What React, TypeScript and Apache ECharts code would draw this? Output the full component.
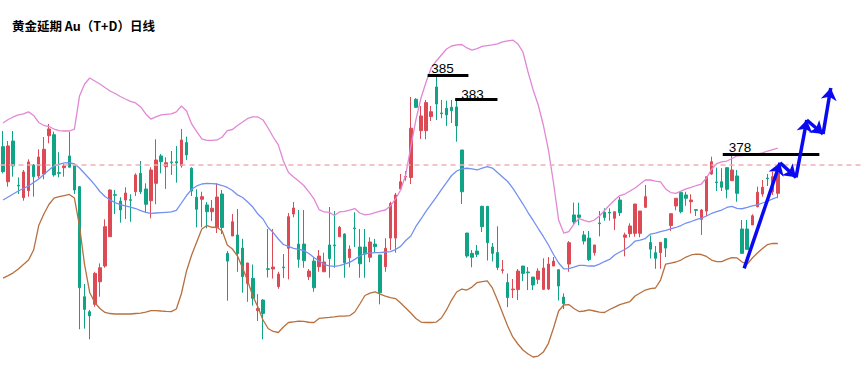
import React, { useEffect, useRef } from 'react';
import * as echarts from 'echarts';

const chartTitle = '黄金延期 Au（T+D）日线';

// [open, close, low, high]
const candles: number[][] = [
  [378.77, 376.59, 376.45, 380.13], [375.72, 378.83, 375.29, 379.26], [379.26, 377.09, 376.16, 380.13],
  [375.41, 375.35, 374.65, 376.10], [374.33, 376.57, 374.07, 376.74], [374.94, 377.44, 374.42, 377.67],
  [377.18, 376.16, 374.42, 377.26], [376.22, 377.87, 376.02, 378.54], [376.39, 378.54, 375.93, 379.61],
  [379.72, 380.31, 379.06, 380.74], [379.81, 376.31, 376.16, 380.07], [376.51, 376.45, 376.10, 378.28],
  [376.94, 377.09, 376.16, 377.26], [377.96, 376.98, 376.98, 380.07], [377.15, 375.00, 374.65, 377.18],
  [375.29, 366.50, 362.89, 375.35], [365.72, 364.62, 362.94, 366.82], [364.42, 364.05, 362.02, 364.57],
  [365.06, 367.75, 364.85, 367.89], [367.02, 368.24, 365.72, 368.62], [368.39, 371.81, 368.24, 372.45],
  [370.94, 375.00, 370.94, 375.06], [374.59, 374.54, 372.91, 375.00], [374.04, 373.26, 372.16, 374.37],
  [374.13, 374.74, 372.48, 375.24], [374.16, 374.10, 372.24, 374.63], [374.85, 376.31, 374.48, 376.45],
  [376.45, 374.85, 374.65, 377.52], [375.09, 373.76, 373.06, 375.58], [374.07, 376.74, 372.54, 376.98],
  [375.58, 377.61, 373.76, 379.41], [377.96, 377.46, 376.45, 378.13], [377.03, 377.37, 375.09, 377.84],
  [377.44, 377.37, 376.31, 378.39], [377.46, 377.35, 375.64, 378.83], [377.11, 379.35, 376.94, 380.31],
  [379.12, 378.05, 377.61, 379.64], [376.89, 374.91, 374.48, 376.98], [374.37, 373.32, 371.76, 375.06],
  [374.19, 374.42, 371.76, 374.85], [373.70, 373.11, 371.67, 373.96], [373.11, 373.41, 372.30, 374.13],
  [371.74, 374.39, 371.26, 375.58], [374.65, 371.74, 371.17, 375.00], [369.49, 368.82, 365.37, 369.69],
  [371.00, 372.24, 371.00, 372.91], [371.09, 369.48, 367.89, 373.35], [369.95, 367.46, 366.07, 370.76],
  [366.88, 368.65, 365.28, 368.67], [367.32, 365.58, 364.95, 368.52], [364.51, 364.69, 363.61, 365.95],
  [365.43, 364.27, 362.02, 365.52], [368.15, 368.10, 367.39, 371.61], [368.13, 368.30, 367.30, 371.61],
  [366.60, 367.69, 366.41, 367.89], [368.30, 368.24, 367.34, 369.43], [369.93, 372.68, 367.23, 373.00],
  [372.91, 373.43, 372.63, 373.96], [370.30, 368.97, 368.24, 373.26], [370.30, 368.85, 368.24, 373.26],
  [367.46, 367.95, 367.17, 368.13], [368.82, 366.50, 366.15, 369.13], [368.33, 369.26, 367.89, 369.78],
  [367.89, 368.74, 367.89, 369.55], [370.22, 369.04, 367.37, 373.52], [370.22, 370.15, 368.24, 373.17],
  [370.94, 371.76, 370.94, 371.87], [371.17, 368.67, 367.37, 371.23], [369.11, 369.87, 368.28, 370.19],
  [371.70, 371.63, 370.04, 373.06], [370.04, 368.59, 367.37, 371.61], [370.04, 369.43, 367.37, 371.61],
  [369.15, 370.48, 368.71, 370.89], [370.30, 370.07, 369.58, 370.74], [369.35, 366.07, 365.06, 369.35],
  [368.33, 369.93, 367.89, 370.80], [370.82, 373.83, 369.78, 373.98], [370.82, 374.57, 369.55, 374.74],
  [375.09, 375.72, 375.09, 376.39], [376.13, 376.19, 375.81, 376.65], [376.09, 380.37, 375.52, 383.09],
  [382.89, 382.19, 382.13, 382.98], [380.16, 381.44, 379.44, 382.30], [380.16, 382.60, 379.41, 382.83],
  [381.38, 381.81, 381.00, 382.30], [383.96, 382.48, 381.09, 385.00], [381.70, 381.64, 381.24, 382.83],
  [382.11, 381.53, 380.57, 382.77], [382.19, 381.90, 380.83, 382.83], [382.22, 380.57, 379.20, 382.87],
  [378.48, 374.85, 373.78, 378.48], [371.26, 369.26, 369.11, 371.26], [369.49, 369.15, 368.28, 369.78],
  [369.69, 369.41, 369.17, 370.22], [373.58, 371.81, 371.35, 373.63], [373.58, 370.42, 368.87, 373.61],
  [370.04, 369.49, 368.78, 370.39], [369.56, 368.26, 368.04, 371.84], [368.01, 368.07, 367.74, 368.91],
  [366.95, 365.65, 364.82, 367.74], [366.33, 366.39, 365.60, 367.26], [366.34, 367.95, 365.43, 368.13],
  [368.39, 367.75, 367.08, 368.39], [367.87, 367.81, 366.30, 368.30], [367.43, 366.74, 366.30, 367.43],
  [367.23, 367.95, 366.82, 368.19], [366.36, 368.22, 366.30, 369.06], [366.39, 368.56, 366.30, 369.17],
  [368.39, 368.82, 368.39, 369.17], [368.07, 366.65, 365.39, 368.09], [365.69, 365.11, 364.65, 366.01],
  [368.56, 370.42, 367.89, 370.56], [372.83, 372.22, 372.00, 373.91], [372.83, 372.63, 371.93, 373.89],
  [371.09, 370.56, 370.26, 371.43], [370.82, 368.94, 368.82, 371.43], [369.55, 370.22, 369.30, 370.22],
  [372.13, 372.07, 370.97, 373.17], [373.06, 372.61, 372.33, 373.41], [373.06, 373.00, 372.33, 373.41],
  [372.54, 373.11, 371.52, 373.11], [374.13, 373.03, 372.74, 374.39], [370.89, 371.09, 369.23, 371.29],
  [371.20, 371.87, 370.89, 372.10], [371.23, 373.78, 370.94, 373.78], [371.23, 373.17, 370.89, 373.17],
  [373.49, 374.42, 373.49, 375.44], [370.43, 369.85, 369.06, 371.04], [369.55, 369.06, 368.15, 370.13],
  [369.55, 370.45, 368.15, 370.45], [370.78, 369.95, 369.17, 370.78], [371.91, 372.94, 371.43, 372.94],
  [373.61, 374.28, 373.23, 374.28], [374.80, 373.11, 372.97, 374.91], [374.57, 374.28, 373.63, 374.85],
  [373.98, 374.13, 372.97, 374.63], [373.29, 373.23, 372.74, 373.35], [372.45, 373.26, 371.09, 373.35],
  [373.17, 376.16, 372.74, 376.16], [376.39, 377.46, 376.31, 377.90], [375.70, 375.64, 374.91, 376.94],
  [375.72, 375.24, 374.91, 376.89], [376.94, 375.06, 374.28, 376.94], [375.81, 376.74, 375.81, 378.04],
  [376.22, 374.71, 373.98, 376.74], [371.61, 369.49, 369.49, 372.39], [371.61, 369.84, 369.84, 372.39],
  [371.96, 372.76, 371.96, 372.89], [373.55, 374.80, 373.49, 375.29], [374.65, 375.24, 374.42, 375.87],
  [376.04, 375.98, 375.35, 376.39], [374.85, 376.16, 374.57, 376.59], [374.71, 376.45, 374.28, 377.18],
];

const upperBand: number[] = [
  380.83, 381.13, 381.35, 381.53, 381.61, 381.79, 381.48, 380.87, 380.61, 380.52,
  380.30, 380.17, 380.13, 380.13, 380.30, 383.17, 384.22, 384.74, 384.48, 384.22,
  383.91, 383.61, 383.39, 383.13, 382.91, 382.70, 382.57, 382.22, 381.61, 381.17,
  381.35, 381.53, 381.57, 381.61, 381.79, 382.30, 381.87, 380.74, 380.07, 379.44,
  379.31, 379.31, 379.35, 379.61, 380.16, 380.26, 380.61, 380.91, 381.22, 381.35,
  381.35, 381.09, 380.39, 379.61, 378.92, 377.52, 376.52, 376.13, 375.78, 375.39,
  374.83, 374.22, 373.30, 373.09, 373.06, 372.78, 373.09, 373.15, 373.26, 373.39,
  373.00, 372.83, 372.91, 373.04, 373.17, 373.26, 373.61, 374.22, 375.00, 376.31,
  378.74, 381.09, 383.00, 384.39, 385.61, 386.22, 386.74, 387.26, 387.52, 387.61,
  387.65, 387.35, 387.17, 387.30, 387.48, 387.56, 387.61, 387.70, 387.87, 387.96,
  388.04, 387.70, 387.00, 385.26, 383.70, 382.39, 380.65, 378.48, 375.61, 372.39,
  371.26, 371.39, 372.04, 372.52, 372.35, 372.22, 372.39, 372.74, 373.22, 373.70,
  374.13, 374.52, 374.65, 374.91, 375.17, 375.52, 375.87, 375.87, 375.78, 375.70,
  375.09, 374.78, 374.71, 374.91, 375.09, 375.22, 375.39, 375.52, 376.04, 376.78,
  377.30, 377.44, 377.52, 377.74, 377.96, 378.00, 378.04, 378.09, 378.13, 378.22,
  378.39, 378.52, 378.65,
];

const middleBand: number[] = [
  374.13, 374.39, 374.65, 374.91, 375.13, 375.35, 375.65, 375.96, 376.35, 376.74,
  377.09, 377.23, 377.35, 377.37, 377.28, 376.91, 376.43, 375.96, 375.44, 374.87,
  374.43, 374.13, 373.90, 373.72, 373.61, 373.52, 373.39, 373.20, 373.06, 372.97,
  373.00, 373.03, 373.06, 373.09, 373.22, 373.87, 374.52, 375.06, 375.35, 375.52,
  375.57, 375.56, 375.52, 375.39, 375.22, 374.96, 374.57, 374.35, 373.96, 373.52,
  372.91, 372.48, 371.74, 371.30, 370.74, 370.26, 370.09, 369.93, 369.83, 369.74,
  369.48, 369.13, 368.82, 368.52, 368.41, 368.36, 368.43, 368.56, 368.71, 368.97,
  369.26, 369.48, 369.52, 369.55, 369.56, 369.61, 369.65, 369.82, 370.10, 370.61,
  371.00, 371.83, 372.48, 373.17, 373.78, 374.39, 375.04, 375.65, 376.26, 376.65,
  376.83, 376.89, 376.83, 376.74, 376.91, 377.03, 376.91, 376.52, 376.13, 375.74,
  375.17, 374.48, 373.78, 373.04, 372.35, 371.65, 370.96, 370.22, 369.39, 368.65,
  368.15, 368.17, 368.30, 368.45, 368.45, 368.39, 368.39, 368.56, 368.78, 368.96,
  369.35, 369.61, 369.83, 370.13, 370.56, 370.65, 370.78, 371.17, 371.26, 371.39,
  371.48, 371.61, 371.74, 371.91, 372.13, 372.26, 372.43, 372.56, 372.74, 372.96,
  373.11, 373.26, 373.48, 373.57, 373.41, 373.37, 373.48, 373.61, 373.70, 373.87,
  374.04, 374.22, 374.39,
];

const lowerBand: number[] = [
  367.34, 367.56, 367.80, 368.13, 368.52, 368.91, 369.78, 371.91, 372.91, 373.74,
  374.30, 374.42, 374.52, 374.61, 374.30, 371.87, 368.48, 366.09, 365.22, 364.70,
  364.35, 364.26, 364.22, 364.22, 364.22, 364.22, 364.26, 364.30, 364.39, 364.52,
  364.52, 364.48, 364.45, 364.43, 364.65, 366.00, 367.96, 369.35, 370.48, 371.61,
  371.91, 371.76, 371.74, 371.43, 370.22, 369.87, 369.26, 368.22, 367.09, 365.78,
  364.82, 363.70, 362.96, 362.70, 362.61, 363.09, 363.48, 363.54, 363.59, 363.57,
  363.50, 363.48, 363.83, 363.89, 363.92, 363.97, 364.03, 364.04, 364.07, 364.39,
  365.09, 365.83, 366.04, 366.15, 365.95, 365.78, 365.65, 365.56, 365.17, 364.74,
  364.30, 363.83, 363.52, 363.48, 363.48, 363.52, 363.87, 364.57, 365.43, 366.13,
  366.39, 366.30, 366.56, 366.95, 367.04, 367.09, 366.48, 365.43, 364.30, 363.17,
  362.22, 361.61, 361.09, 360.74, 360.48, 360.56, 360.91, 361.67, 363.00, 364.48,
  365.00, 365.04, 364.70, 364.43, 364.48, 364.57, 364.48, 364.39, 364.35, 364.61,
  364.82, 365.04, 365.17, 365.30, 365.78, 366.04, 366.30, 366.43, 366.48, 367.17,
  368.56, 368.65, 368.74, 368.91, 369.17, 369.35, 369.43, 369.39, 369.22, 368.91,
  368.78, 368.78, 368.96, 369.11, 369.09, 368.74, 368.56, 369.09, 369.52, 369.91,
  370.26, 370.35, 370.35,
];

const slotCount = 169;
const categories: string[] = Array.from({ length: slotCount }, (_, i) => String(i + 1));

const referenceLevel = 377.18;

// resistance annotations (label text, price, start/end slot)
const levelLabels = ['385', '383', '378'];
const levelPrices = [385.0, 382.85, 378.13];
const levelFrom = [83.3, 88.7, 141.2];
const levelTo = [91.3, 97.0, 160.15];
const labelSlots = [86.2, 92.1, 144.6];
const labelPrices = [385.58, 383.33, 378.68];

// hand-drawn forecast arrow path (slot, price)
const arrowSlots = [145.4, 152.44, 155.58, 157.68, 160.88, 162.39];
const arrowPrices = [368.19, 377.37, 376.1, 381.09, 379.87, 383.87];

const UP = '#dc4a56';
const DOWN = '#10a386';

export default function App() {
  const ref = useRef<HTMLDivElement>(null);
  useEffect(() => {
    if (!ref.current) return;
    const chart = echarts.init(ref.current, undefined, { renderer: 'svg' });
    const arrowSegs = arrowSlots.slice(0, -1).map((x, i) => ({
      coords: [[x, arrowPrices[i]], [arrowSlots[i + 1], arrowPrices[i + 1]]],
    }));
    chart.setOption({
      animation: false,
      backgroundColor: '#ffffff',
      title: {
        text: chartTitle,
        left: 12,
        top: 18,
        padding: 0,
        textStyle: {
          fontSize: 12.5,
          fontWeight: 'bold',
          color: '#000',
          lineHeight: 14,
          fontFamily: "'Noto Sans CJK SC', sans-serif",
        },
      },
      grid: { left: 0.5, right: 3.1, top: 0, bottom: 0, containLabel: false },
      xAxis: [
        { type: 'category', data: categories, boundaryGap: true, show: false },
        { type: 'value', min: -0.5, max: slotCount - 0.5, show: false },
      ],
      yAxis: { type: 'value', min: 359.61, max: 391.52, show: false, scale: true },
      series: [
        {
          type: 'candlestick',
          data: candles,
          barWidth: 3,
          itemStyle: { color: UP, color0: DOWN, borderColor: UP, borderColor0: DOWN, borderWidth: 1 },
          markLine: {
            silent: true,
            symbol: 'none',
            label: { show: false },
            lineStyle: { color: '#f0b0b5', type: [5, 4], width: 1.5 },
            data: [{ yAxis: referenceLevel }],
          },
        },
        {
          type: 'line', data: upperBand, showSymbol: false, symbol: 'none', silent: true,
          lineStyle: { color: '#e287d5', width: 1.3 },
        },
        {
          type: 'line', data: middleBand, showSymbol: false, symbol: 'none', silent: true,
          lineStyle: { color: '#7390f2', width: 1.3 },
        },
        {
          type: 'line', data: lowerBand, showSymbol: false, symbol: 'none', silent: true,
          lineStyle: { color: '#b7703f', width: 1.3 },
        },
        {
          type: 'lines',
          coordinateSystem: 'cartesian2d',
          xAxisIndex: 1,
          yAxisIndex: 0,
          silent: true,
          symbol: 'none',
          lineStyle: { color: '#000', width: 3, opacity: 1 },
          data: levelPrices.map((p, i) => ({ coords: [[levelFrom[i], p], [levelTo[i], p]] })),
          z: 5,
        },
        {
          type: 'lines',
          coordinateSystem: 'cartesian2d',
          xAxisIndex: 1,
          yAxisIndex: 0,
          silent: true,
          symbol: ['none', 'arrow'],
          symbolSize: 12,
          lineStyle: { color: '#0a0af2', width: 3.5, opacity: 1 },
          data: arrowSegs,
          z: 6,
        },
        {
          type: 'scatter',
          xAxisIndex: 1,
          yAxisIndex: 0,
          silent: true,
          symbolSize: 1,
          itemStyle: { color: 'rgba(0,0,0,0)', opacity: 1 },
          data: labelSlots.map((x, i) => [x, labelPrices[i], levelLabels[i]]),
          label: {
            show: true,
            position: 'inside',
            formatter: (p: any) => p.value[2],
            color: '#000',
            opacity: 1,
            fontSize: 13.5,
            fontFamily: "'Liberation Sans', Arial, sans-serif",
          },
          z: 7,
        },
      ],
    });
    return () => chart.dispose();
  }, []);
  return (
    <div
      ref={ref}
      style={{ position: 'absolute', left: 0, top: 0, width: 865, height: 367 }}
    />
  );
}
